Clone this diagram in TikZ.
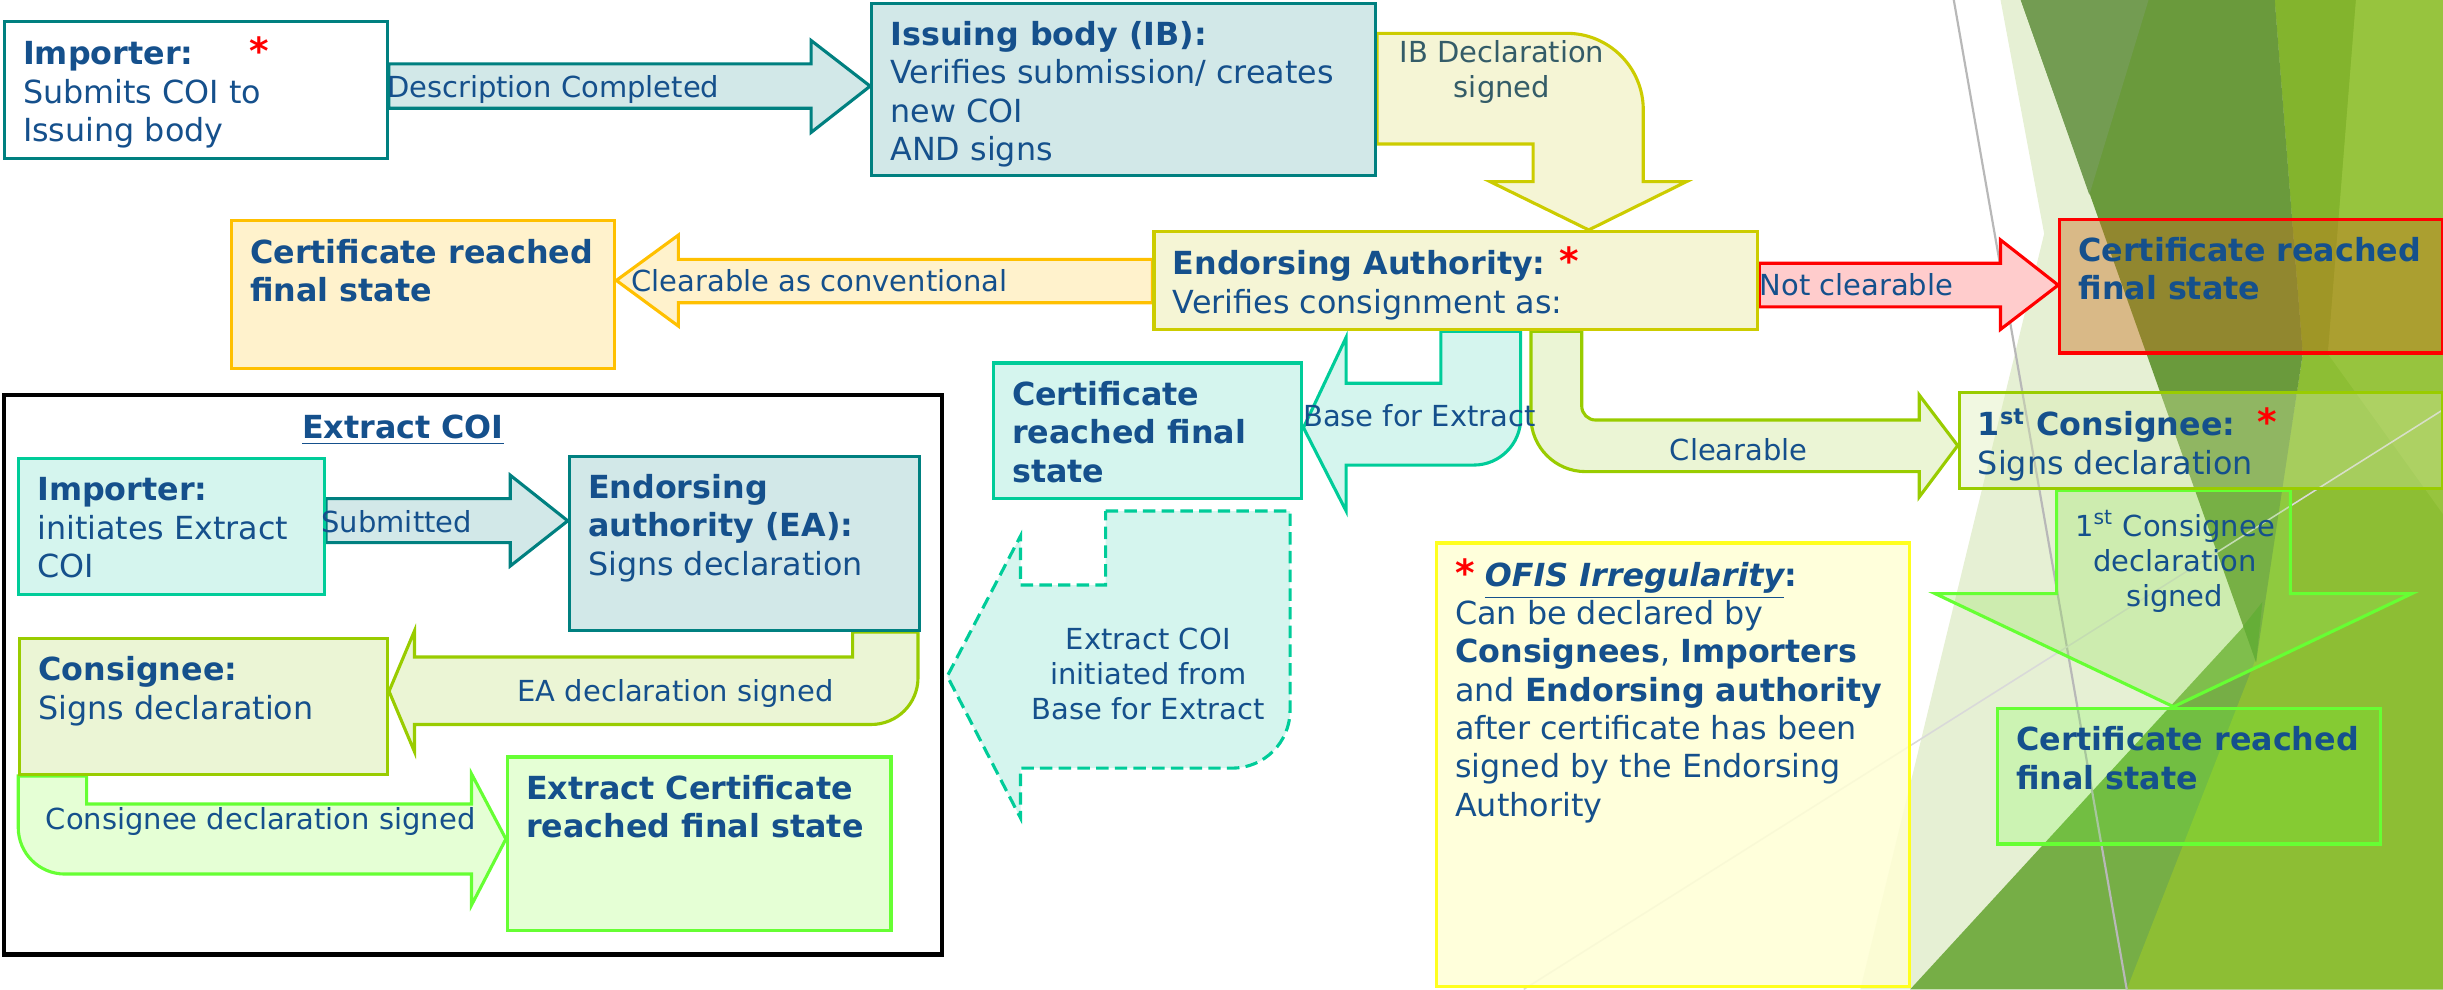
\documentclass[tikz,border=0pt]{standalone}
\usepackage{fontspec}
\setmainfont{DejaVu Sans}
\usepackage{xcolor}
\usetikzlibrary{positioning}

\definecolor{textblue}{RGB}{21,80,140}
\definecolor{ibgray}{RGB}{52,92,104}
\definecolor{tealline}{RGB}{0,128,128}
\definecolor{tealfill}{RGB}{210,232,232}
\definecolor{yelline}{RGB}{204,204,0}
\definecolor{yelfill}{RGB}{245,245,213}
\definecolor{orline}{RGB}{255,192,0}
\definecolor{orfill}{RGB}{255,242,204}
\definecolor{redline}{RGB}{255,0,0}
\definecolor{redfill}{RGB}{255,204,204}
\definecolor{redbox}{RGB}{200,110,30}
\definecolor{mintline}{RGB}{0,204,153}
\definecolor{mintfill}{RGB}{213,245,238}
\definecolor{limeline}{RGB}{153,204,0}
\definecolor{limefill}{RGB}{235,245,213}
\definecolor{consfill}{RGB}{215,235,170}
\definecolor{brightline}{RGB}{102,255,51}
\definecolor{brightfill}{RGB}{229,255,213}
\definecolor{downfill}{RGB}{150,230,90}
\definecolor{ofisline}{RGB}{255,255,30}
\definecolor{ofisfill}{RGB}{255,255,213}
\definecolor{facetpale}{RGB}{230,240,212}
\definecolor{facetdark}{RGB}{106,154,60}
\definecolor{facetband}{RGB}{115,156,82}
\definecolor{facetmid}{RGB}{118,174,70}
\definecolor{facetyg}{RGB}{141,190,52}
\definecolor{facetstrip}{RGB}{131,180,45}
\definecolor{facetright}{RGB}{151,196,62}
\definecolor{facetdeep}{RGB}{80,150,40}

\pgfdeclarelayer{deco}
\pgfdeclarelayer{arr}
\pgfsetlayers{deco,arr,main}

\newcommand{\boxfont}{\fontsize{10.2pt}{12.3pt}\selectfont}
\newcommand{\lblfont}{\fontsize{9.3pt}{11.2pt}\selectfont}
\newcommand{\redstar}{{\color{red}\fontsize{12pt}{12pt}\selectfont\bfseries *}}
% box text: width and height in px
\newcommand{\bxt}[3]{\begin{minipage}[t][\dimexpr#2pt*5/10-10pt\relax][t]{\dimexpr#1pt*5/10-12pt\relax}\raggedright\strut#3\end{minipage}}

\begin{document}
\begin{tikzpicture}[x=0.5pt,y=-0.5pt]
	\tikzstyle{cbox}=[anchor=north west, inner xsep=6pt, inner ysep=5pt, line width=1pt, text=textblue, font=\boxfont]
	\tikzstyle{lbl}=[inner sep=0pt, text=textblue, font=\lblfont]
	\tikzstyle{blk}=[line width=1pt]
	\useasboundingbox (0,0) rectangle (1568,635);

	% background facets
	\begin{pgfonlayer}{deco}
		\fill[facetpale] (1284,0) -- (1568,0) -- (1568,635) -- (1194,635) -- (1312,150) -- cycle;
		\fill[facetmid] (1226,635) -- (1568,263) -- (1568,635) -- cycle;
		\fill[facetyg] (1460,0) -- (1568,0) -- (1568,635) -- (1365,635) -- (1447,425) -- (1478,227) -- cycle;
		\fill[facetright] (1512,0) -- (1568,0) -- (1568,330) -- (1494,227) -- cycle;
		\fill[facetstrip] (1460,0) -- (1512,0) -- (1494,227) -- (1478,227) -- cycle;
		\fill[facetdark] (1297,0) -- (1460,0) -- (1478,227) -- (1448,425) -- cycle;
		\fill[facetband] (1297,0) -- (1379,0) -- (1341,125) -- cycle;
		\fill[facetdeep] (1452,386.5) -- (1439.8,401.8) -- (1448,425) -- cycle;
		\draw[black!28, line width=0.7pt] (1254,0) -- (1365,635);
		\draw[black!15, line width=0.5pt] (978,635) -- (1568,263);
	\end{pgfonlayer}

	% main flow
	\node[cbox, draw=tealline, fill=white] (imp) at (1.8,12.8)
		{\bxt{245.8}{87.7}{\textbf{Importer:}\hspace{18pt}\redstar\\Submits COI to\\Issuing body}};
	\node[cbox, draw=tealline, fill=tealfill] (ib) at (558.5,1)
		{\bxt{323.4}{110.7}{\textbf{Issuing body (IB):}\\Verifies submission/ creates\\new COI\\AND signs}};
	\node[cbox, draw=yelline, fill=yelfill] (ea) at (739.7,147.6)
		{\bxt{387.5}{63.1}{\textbf{Endorsing Authority:} \redstar\\Verifies consignment as:}};
	\node[cbox, draw=orline, fill=orfill] (ocert) at (147.6,140.8)
		{\bxt{246}{94.5}{\textbf{Certificate reached\\final state}}};
	\node[cbox, draw=redline, fill=redbox, fill opacity=0.42, text opacity=1] (rcert) at (1321,139.7)
		{\bxt{245.6}{85.9}{\textbf{Certificate reached\\final state}}};
	\node[cbox, draw=mintline, fill=mintfill] (tcert) at (636.6,232)
		{\bxt{198}{87}{\textbf{Certificate\\reached final\\state}}};
	\node[cbox, draw=limeline, fill=consfill, fill opacity=0.35, text opacity=1] (cons) at (1256.5,251)
		{\bxt{310}{61.7}{\textbf{1\textsuperscript{st} Consignee:}\hspace{7pt}\redstar\\Signs declaration}};
	\node[cbox, draw=brightline, fill=brightline, fill opacity=0.2, text opacity=1] (gcert) at (1281,453.6)
		{\bxt{246}{87.1}{\textbf{Certificate reached\\final state}}};
	\node[cbox, draw=ofisline, fill=ofisfill, fill opacity=0.85, text opacity=1] (ofis) at (921,347.5)
		{\bxt{303.4}{284.5}{\redstar\ \textbf{\textit{\underline{OFIS Irregularity}}}\textbf{:}\\Can be declared by\\\textbf{Consignees}, \textbf{Importers}\\and \textbf{Endorsing authority}\\after certificate has been\\signed by the Endorsing\\Authority}};

	% extract COI
	\node[draw=black, line width=1.5pt, inner sep=0pt, anchor=north west, minimum width=301pt, minimum height=179.5pt] (frame) at (1,252) {};
	\node[inner sep=0pt, text=textblue, font=\boxfont\bfseries] (xtitle) at (258.6,276) {\underline{Extract COI}};
	\node[cbox, draw=mintline, fill=mintfill] (ximp) at (10.9,293.3)
		{\bxt{196.4}{87.4}{\textbf{Importer:}\\initiates Extract\\COI}};
	\node[cbox, draw=tealline, fill=tealfill] (xea) at (364.4,291.8)
		{\bxt{224.8}{111.9}{\textbf{Endorsing\\authority (EA):}\\Signs declaration}};
	\node[cbox, draw=limeline, fill=limefill] (xcons) at (11.7,408.7)
		{\bxt{236}{87.4}{\textbf{Consignee:}\\Signs declaration}};
	\node[cbox, draw=brightline, fill=brightfill] (xcert) at (324.7,484.9)
		{\bxt{246.2}{111.6}{\textbf{Extract Certificate\\reached final state}}};
	\coordinate (ftip) at ([xshift=1pt]frame.east);

	% block arrows
	\begin{pgfonlayer}{arr}
		\draw[blk, draw=tealline, fill=tealfill] (imp.east |- 0,41) -- (520.6,41) -- (520.6,26) -- (ib.west |- 0,55.3)
			-- (520.6,85) -- (520.6,69.5) -- (imp.east |- 0,69.5) -- cycle;
		\draw[blk, draw=yelline, fill=yelfill] (ib.east |- 0,21.4) -- (1005.7,21.4)
			.. controls (1032.7,21.4) and (1054.7,43.4) .. (1054.7,70.4) -- (1054.7,116.6) -- (1082.4,116.6)
			-- (1019.7,0 |- ea.north) -- (956.4,116.6) -- (984,116.6) -- (984,92.4) -- (ib.east |- 0,92.4) -- cycle;
		\draw[blk, draw=orline, fill=orfill] (ea.west |- 0,166.5) -- (435.4,166.5) -- (435.4,150.9) -- (ocert.east |- 0,180)
			-- (435.4,209.3) -- (435.4,194.3) -- (ea.west |- 0,194.3) -- cycle;
		\draw[blk, draw=redline, fill=redfill] (ea.east |- 0,169) -- (1284,169) -- (1284,154) -- (rcert.west |- 0,183)
			-- (1284,211.4) -- (1284,197) -- (ea.east |- 0,197) -- cycle;
		\draw[blk, draw=mintline, fill=mintfill] (924.8,0 |- ea.south) -- (976,0 |- ea.south) -- (976,268.5)
			.. controls (976,285) and (962.5,298.5) .. (946,298.5) -- (864,298.5) -- (864,328)
			-- (tcert.east |- 0,274.5) -- (864,216.5) -- (864,246) -- (924.8,246) -- cycle;
		\draw[blk, draw=mintline, fill=mintfill, dash pattern=on 4pt off 2pt] (709.6,328) -- (828,328) -- (828,456)
			.. controls (828,476.4) and (811.4,493) .. (791,493) -- (655,493) -- (655,525)
			-- (ftip |- 0,434) -- (655,344) -- (655,375.5) -- (709.6,375.5) -- cycle;
		\draw[blk, draw=limeline, fill=limefill] (982.6,0 |- ea.south) -- (1015.2,0 |- ea.south) -- (1015.2,260.6)
			.. controls (1015.2,265.6) and (1019.2,269.6) .. (1024.2,269.6) -- (1231.8,269.6) -- (1231.8,253.5)
			-- (cons.west |- 0,286) -- (1231.8,319) -- (1231.8,302.7) -- (1017.6,302.7)
			.. controls (998.3,302.7) and (982.6,287) .. (982.6,267.7) -- cycle;
		\draw[blk, draw=brightline, fill=downfill, fill opacity=0.3] (1320,0 |- cons.south) -- (1470,0 |- cons.south)
			-- (1470,381) -- (1548,381) -- (1395,0 |- gcert.north) -- (1242,381) -- (1320,381) -- cycle;
		\draw[blk, draw=tealline, fill=tealfill] (ximp.east |- 0,320) -- (327.5,320) -- (327.5,305) -- (xea.west |- 0,334.3)
			-- (327.5,363.3) -- (327.5,348.3) -- (ximp.east |- 0,348.3) -- cycle;
		\draw[blk, draw=limeline, fill=limefill] (547.2,0 |- xea.south) -- (589.2,0 |- xea.south) -- (589.2,435)
			.. controls (589.2,451.6) and (575.8,465) .. (559.2,465) -- (266,465) -- (266,482.4)
			-- (xcons.east |- 0,443.7) -- (266,405) -- (266,421.7) -- (547.2,421.7) -- cycle;
		\draw[blk, draw=brightline, fill=brightfill] (11.7,0 |- xcons.south) -- (55.6,0 |- xcons.south) -- (55.6,516)
			-- (302.6,516) -- (302.6,496.6) -- (xcert.west |- 0,538.5) -- (302.6,581) -- (302.6,561) -- (41.7,561)
			.. controls (25,561) and (11.7,547.6) .. (11.7,531) -- cycle;
	\end{pgfonlayer}

	% arrow labels
	\node[lbl, anchor=west] (lbldesc) at (248,57.3) {Description Completed};
	\node[lbl, text=ibgray, align=center] (lblib) at (964,46.5) {IB Declaration\\signed};
	\node[lbl, anchor=west] (lblconv) at (405,180) {Clearable as conventional};
	\node[lbl, anchor=west] (lblnot) at (1129,183) {Not clearable};
	\node[lbl, anchor=west] (lblbase) at (836,266.5) {Base for Extract};
	\node[lbl, align=center] (lblinit) at (737,432.5) {Extract COI\\initiated from\\Base for Extract};
	\node[lbl] (lblclr) at (1116,288.8) {Clearable};
	\node[lbl, align=center] (lblfirst) at (1396,360.5) {1\textsuperscript{st} Consignee\\declaration\\signed};
	\node[lbl, anchor=west] (lblsub) at (206,335) {Submitted};
	\node[lbl] (lblead) at (433.6,445) {EA declaration signed};
	\node[lbl, anchor=west] (lblcons) at (29,527.3) {Consignee declaration signed};
\end{tikzpicture}
\end{document}
